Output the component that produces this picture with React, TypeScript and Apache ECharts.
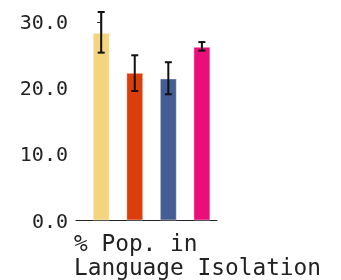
import React, { useEffect, useRef } from "react";
import * as echarts from "echarts";

const categories = ["Group A", "Group B", "Group C", "Group D"];
const values = [28.4, 22.35, 21.5, 26.3];
const errLow = [25.4, 19.6, 19.1, 25.7];
const errHigh = [31.55, 25.0, 23.95, 27.0];
const colors = ["#F5D47F", "#DB3E0B", "#465C94", "#E80F7B"];
const yTicks = [0, 10, 20, 30];
const axisTitle = ["% Pop. in", "Language Isolation"];

const FONT = "'DejaVu Sans Mono', 'Liberation Mono', monospace";

export default function App() {
  const ref = useRef<HTMLDivElement>(null);
  useEffect(() => {
    const chart = echarts.init(ref.current!, null, { renderer: "svg" });
    chart.setOption({
      animation: false,
      grid: { left: 76, top: 12, width: 141, height: 208.5, containLabel: false },
      xAxis: {
        type: "value",
        min: -0.75,
        max: 3.45,
        axisLine: { show: true, lineStyle: { color: "#222", width: 1.2 } },
        axisTick: { show: false },
        axisLabel: { show: false },
        splitLine: { show: false },
      },
      yAxis: {
        type: "value",
        min: 0,
        max: 31.55,
        axisLine: { show: true, lineStyle: { color: "#222", width: 1.2 } },
        axisTick: { show: true, length: 4, customValues: yTicks, lineStyle: { color: "#222" } },
        axisLabel: {
          customValues: yTicks,
          formatter: (v: number) => v.toFixed(1),
          fontFamily: FONT,
          fontSize: 20,
          color: "#222",
          margin: 8,
        },
        splitLine: { show: false },
      },
      series: [
        {
          type: "bar",
          barWidth: 17,
          data: values.map((v, i) => ({
            value: [i, v],
            name: categories[i],
            itemStyle: { color: colors[i], borderColor: "rgba(255,255,255,0.45)", borderWidth: 1 },
          })),
        },
        {
          type: "custom",
          renderItem: (params: any, api: any) => {
            const x = api.value(0);
            const lo = api.coord([x, api.value(1)]);
            const hi = api.coord([x, api.value(2)]);
            const hw = 3.5;
            const style = { stroke: "#111", lineWidth: 2 };
            return {
              type: "group",
              children: [
                { type: "line", shape: { x1: lo[0], y1: lo[1], x2: hi[0], y2: hi[1] }, style },
                { type: "line", shape: { x1: lo[0] - hw, y1: lo[1], x2: lo[0] + hw, y2: lo[1] }, style },
                { type: "line", shape: { x1: hi[0] - hw, y1: hi[1], x2: hi[0] + hw, y2: hi[1] }, style },
              ],
            };
          },
          data: values.map((_, i) => [i, errLow[i], errHigh[i]]),
          z: 10,
        },
      ],
      graphic: [
        {
          type: "text",
          left: 74,
          top: 231,
          style: {
            text: axisTitle.join("\n"),
            fontFamily: FONT,
            fontSize: 22.8,
            lineHeight: 24,
            fill: "#222",
          },
        },
      ],
    });
    return () => chart.dispose();
  }, []);
  return (
    <div
      ref={ref}
      style={{ position: "fixed", left: 0, top: 0, width: 341, height: 280 }}
    />
  );
}
